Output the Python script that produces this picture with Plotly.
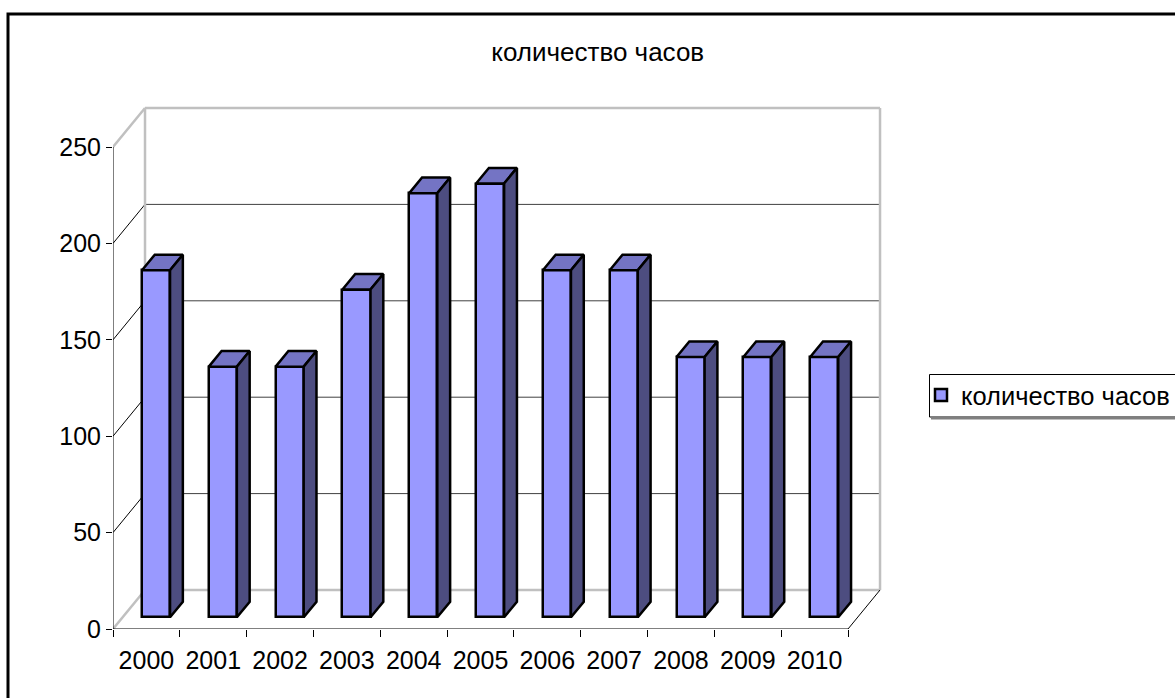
import plotly.graph_objects as go

# Hours per year
years = ["2000", "2001", "2002", "2003", "2004", "2005",
         "2006", "2007", "2008", "2009", "2010"]
hours = [180, 130, 130, 170, 220, 225, 180, 180, 135, 135, 135]
y_ticks = [0, 50, 100, 150, 200, 250]

# pseudo-3D geometry (in axis units)
DX = 0.479          # depth shift along x, category units
DY = 20.23          # depth shift along y, value units
FRONT = 0.3         # bar front plane as a fraction of the depth
DEPTH = 0.4         # bar depth as a fraction of the depth
BAR_W = 0.42        # bar width, category units
TOP_V = 250
N = len(years)

FRONT_COL = "#9999FF"
TOP_COL = "#7474C4"
SIDE_COL = "#4D4D80"
WALL_COL = "#C0C0C0"
GRID_COL = "#404040"
EDGE_W = 2.5

fig = go.Figure()

# front faces as real bars
centers = [i + 0.5 + FRONT * DX for i in range(N)]
fig.add_trace(go.Bar(
    x=centers, y=hours, base=[FRONT * DY] * N, width=BAR_W,
    marker=dict(color=FRONT_COL, line=dict(color="black", width=EDGE_W)),
    name="количество часов", showlegend=True,
))

# top and side faces
for c, v in zip(centers, hours):
    xl, xr = c - BAR_W / 2, c + BAR_W / 2
    b = FRONT * DY
    t = v + FRONT * DY
    ddx, ddy = DEPTH * DX, DEPTH * DY
    fig.add_trace(go.Scatter(
        x=[xl, xr, xr + ddx, xl + ddx, xl],
        y=[t, t, t + ddy, t + ddy, t],
        mode="lines", fill="toself", fillcolor=TOP_COL,
        line=dict(color="black", width=EDGE_W), showlegend=False, hoverinfo="skip"))
    fig.add_trace(go.Scatter(
        x=[xr, xr + ddx, xr + ddx, xr, xr],
        y=[b, b + ddy, t + ddy, t, b],
        mode="lines", fill="toself", fillcolor=SIDE_COL,
        line=dict(color="black", width=EDGE_W), showlegend=False, hoverinfo="skip"))

shapes = []


def seg(x0, y0, x1, y1, color, width, layer="below", ref="x"):
    shapes.append(dict(type="line", xref=ref, yref="y" if ref == "x" else "paper",
                       x0=x0, y0=y0, x1=x1, y1=y1, layer=layer,
                       line=dict(color=color, width=width)))


# gridlines on back wall and side wall
for v in y_ticks[1:-1]:
    seg(DX, v + DY, N + DX, v + DY, GRID_COL, 1)
    seg(0, v, DX, v + DY, "black", 1)

# wall and floor edges
seg(DX, DY, N + DX, DY, WALL_COL, 2.5)
seg(DX, TOP_V + DY, N + DX, TOP_V + DY, WALL_COL, 2.5)
seg(DX, DY, DX, TOP_V + DY, WALL_COL, 2.5)
seg(N + DX, DY, N + DX, TOP_V + DY, WALL_COL, 2.5)
seg(0, 0, DX, DY, WALL_COL, 2.5)
seg(0, TOP_V, DX, TOP_V + DY, WALL_COL, 2.5)
seg(N, 0, N + DX, DY, "black", 1)

# axis lines
seg(0, 0, 0, TOP_V, "black", 1, layer="above")
seg(0, 0, N, 0, "black", 1, layer="above")

PX_PER_CAT = 66.82
PX_PER_VAL = 1.928
PLOT_W = 772
PLOT_H = 529
LEFT = 113
BOTTOM = 69


def px_x(p):
    return (p - LEFT) / PLOT_W


def px_y(p):
    return (698 - BOTTOM - p) / PLOT_H


# outer chart frame
shapes.append(dict(type="rect", xref="paper", yref="paper",
                   x0=px_x(8), y0=px_y(710), x1=px_x(1190), y1=px_y(14),
                   line=dict(color="black", width=3), layer="above"))
# legend frame with drop shadow
shapes.append(dict(type="rect", xref="paper", yref="paper",
                   x0=px_x(929.5), y0=px_y(417), x1=px_x(1190), y1=px_y(374.5),
                   fillcolor="white", line=dict(color="black", width=1),
                   layer="above"))
shapes.append(dict(type="line", xref="paper", yref="paper",
                   x0=px_x(931), y0=px_y(418.5), x1=px_x(1190), y1=px_y(418.5),
                   line=dict(color="#808080", width=2), layer="above"))

fig.update_layout(
    width=1175, height=698,
    margin=dict(l=LEFT, r=1175 - LEFT - PLOT_W, t=698 - BOTTOM - PLOT_H, b=BOTTOM,
                autoexpand=False),
    paper_bgcolor="white", plot_bgcolor="white",
    font=dict(family="Liberation Sans, Arial, sans-serif", size=25, color="black"),
    title=dict(text="количество часов", x=597.7 / 1175, xanchor="center",
               y=1 - 52 / 698, yanchor="middle", xref="container", yref="container",
               font=dict(size=26)),
    showlegend=True,
    legend=dict(x=px_x(921), xanchor="left", y=px_y(395.5), yanchor="middle",
                borderwidth=0, bgcolor="rgba(0,0,0,0)",
                itemwidth=30, font=dict(size=25.5)),
    bargap=0,
    shapes=shapes,
    xaxis=dict(range=[0, PLOT_W / PX_PER_CAT], tickmode="array",
               tickvals=[i + 0.5 for i in range(N)], ticktext=years,
               ticks="", showgrid=False, zeroline=False, showline=False,
               ticklabelstandoff=14,
               minor=dict(tickmode="array", tickvals=list(range(N + 1)),
                          ticks="outside", ticklen=7, tickcolor="black",
                          tickwidth=1, showgrid=False),
               fixedrange=True),
    yaxis=dict(range=[0, PLOT_H / PX_PER_VAL], tickmode="array",
               tickvals=y_ticks, ticks="outside", ticklen=6, tickcolor="black",
               showgrid=False, zeroline=False, showline=False, fixedrange=True),
)

fig.write_html("out.html")
